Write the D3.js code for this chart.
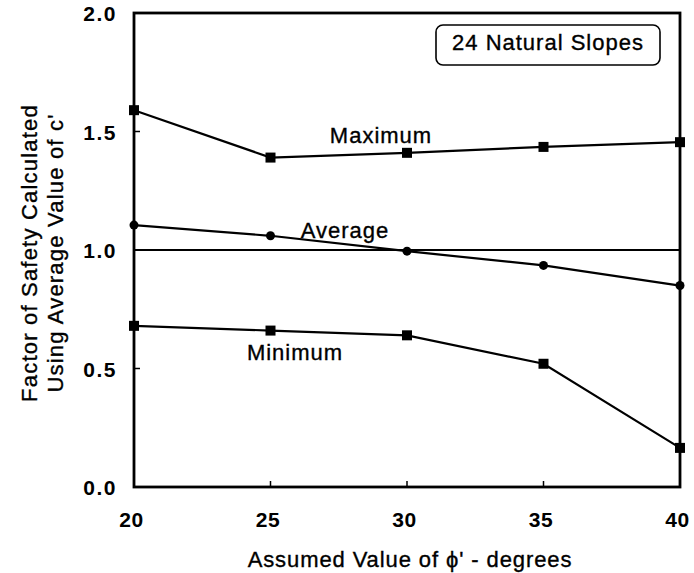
<!DOCTYPE html>
<html><head><meta charset="utf-8">
<script src="https://cdn.jsdelivr.net/npm/d3@7"></script>
<style>body{margin:0;background:#fff}svg{display:block}text{font-family:"Liberation Sans",Arial,sans-serif;fill:#000}text.lbl{stroke:#000;stroke-width:0.35px}</style>
</head><body>
<script>
const phi = [20, 25, 30, 35, 40];
const maximum = [1.59, 1.39, 1.41, 1.435, 1.455];
const average = [1.105, 1.06, 0.995, 0.935, 0.85];
const minimum = [0.68, 0.66, 0.64, 0.52, 0.165];
const reference = [1.0, 1.0];
const xTicks = [20, 25, 30, 35, 40];
const yTicks = [0.0, 0.5, 1.0, 1.5, 2.0];
const seriesLabels = ["Maximum", "Average", "Minimum"];
const boxLabel = "24 Natural Slopes";

const W = 694, H = 573;
const m = {l:134, r:14, t:13, b:86};
const svg = d3.select("body").append("svg").attr("width", W).attr("height", H);
const x = d3.scaleLinear().domain([20, 40]).range([m.l, W - m.r]);
const y = d3.scaleLinear().domain([0, 2]).range([H - m.b, m.t]);

// frame
svg.append("rect").attr("x", x(20)).attr("y", y(2)).attr("width", x(40)-x(20)).attr("height", y(0)-y(2))
  .attr("fill","none").attr("stroke","#000").attr("stroke-width",2.8);

// axes
const xAxis = d3.axisBottom(x).tickValues(xTicks).tickFormat(d3.format("d")).tickSize(0).tickPadding(25);
const gx = svg.append("g").attr("transform", `translate(-3,${y(0)})`).call(xAxis);
gx.select(".domain").remove();
gx.selectAll("text").attr("font-size", 21).attr("font-weight", "bold").attr("letter-spacing", 0.5);
const yAxis = d3.axisLeft(y).tickValues(yTicks).tickFormat(d3.format(".1f")).tickSize(0).tickPadding(17);
const gy = svg.append("g").attr("transform", `translate(${x(20)},0)`).call(yAxis);
gy.select(".domain").remove();
gy.selectAll("text").attr("font-size", 21).attr("font-weight", "bold").attr("letter-spacing", 1.5).attr("dy", "0.38em");

// inward ticks
svg.selectAll(".xt").data(xTicks.slice(1, -1)).enter().append("line")
  .attr("x1", d => x(d)).attr("x2", d => x(d)).attr("y1", y(0)).attr("y2", y(0) - 6)
  .attr("stroke", "#000").attr("stroke-width", 1.5);
svg.selectAll(".yt").data(yTicks.slice(1, -1)).enter().append("line")
  .attr("x1", x(20)).attr("x2", x(20) + 6).attr("y1", d => y(d)).attr("y2", d => y(d))
  .attr("stroke", "#000").attr("stroke-width", 1.5);

// reference line
svg.append("line").attr("x1", x(20)).attr("x2", x(40)).attr("y1", y(reference[0])).attr("y2", y(reference[1]))
  .attr("stroke", "#000").attr("stroke-width", 2.2);

const line = d3.line().x((d, i) => x(phi[i])).y(d => y(d));
[maximum, average, minimum].forEach(s => {
  svg.append("path").attr("d", line(s)).attr("fill", "none").attr("stroke", "#000").attr("stroke-width", 2.2);
});
// square markers
[maximum, minimum].forEach(s => {
  svg.selectAll(null).data(s).enter().append("rect")
    .attr("x", (d, i) => x(phi[i]) - 5).attr("y", d => y(d) - 5)
    .attr("width", 10).attr("height", 10).attr("fill", "#000");
});
svg.selectAll(null).data(average).enter().append("circle")
  .attr("cx", (d, i) => x(phi[i])).attr("cy", d => y(d)).attr("r", 4.5).attr("fill", "#000");

// series labels
const lab = [[seriesLabels[0], 381, 143], [seriesLabels[1], 345, 238], [seriesLabels[2], 295, 360]];
lab.forEach(([t, cx, cy]) => {
  svg.append("text").attr("class", "lbl").attr("x", cx).attr("y", cy).attr("text-anchor", "middle")
    .attr("font-size", 22).attr("letter-spacing", 1).text(t);
});

// box label
svg.append("rect").attr("x", 436).attr("y", 25).attr("width", 224).attr("height", 40).attr("rx", 7)
  .attr("fill", "#fff").attr("stroke", "#000").attr("stroke-width", 1.6);
svg.append("text").attr("class", "lbl").attr("x", 548).attr("y", 50).attr("text-anchor", "middle")
  .attr("font-size", 22).attr("letter-spacing", 1).text(boxLabel);

// axis titles
svg.append("text").attr("class", "lbl").attr("x", 410).attr("y", 567).attr("text-anchor", "middle")
  .attr("font-size", 22).attr("letter-spacing", 0.9).text("Assumed Value of \u03D5' - degrees");
svg.append("text").attr("class", "lbl").attr("transform", "translate(37,253) rotate(-90)").attr("text-anchor", "middle")
  .attr("font-size", 22).attr("letter-spacing", 1.2).text("Factor of Safety Calculated");
svg.append("text").attr("class", "lbl").attr("transform", "translate(63,253) rotate(-90)").attr("text-anchor", "middle")
  .attr("font-size", 22).attr("letter-spacing", 1.2).text("Using Average Value of c'");
</script>
</body></html>
